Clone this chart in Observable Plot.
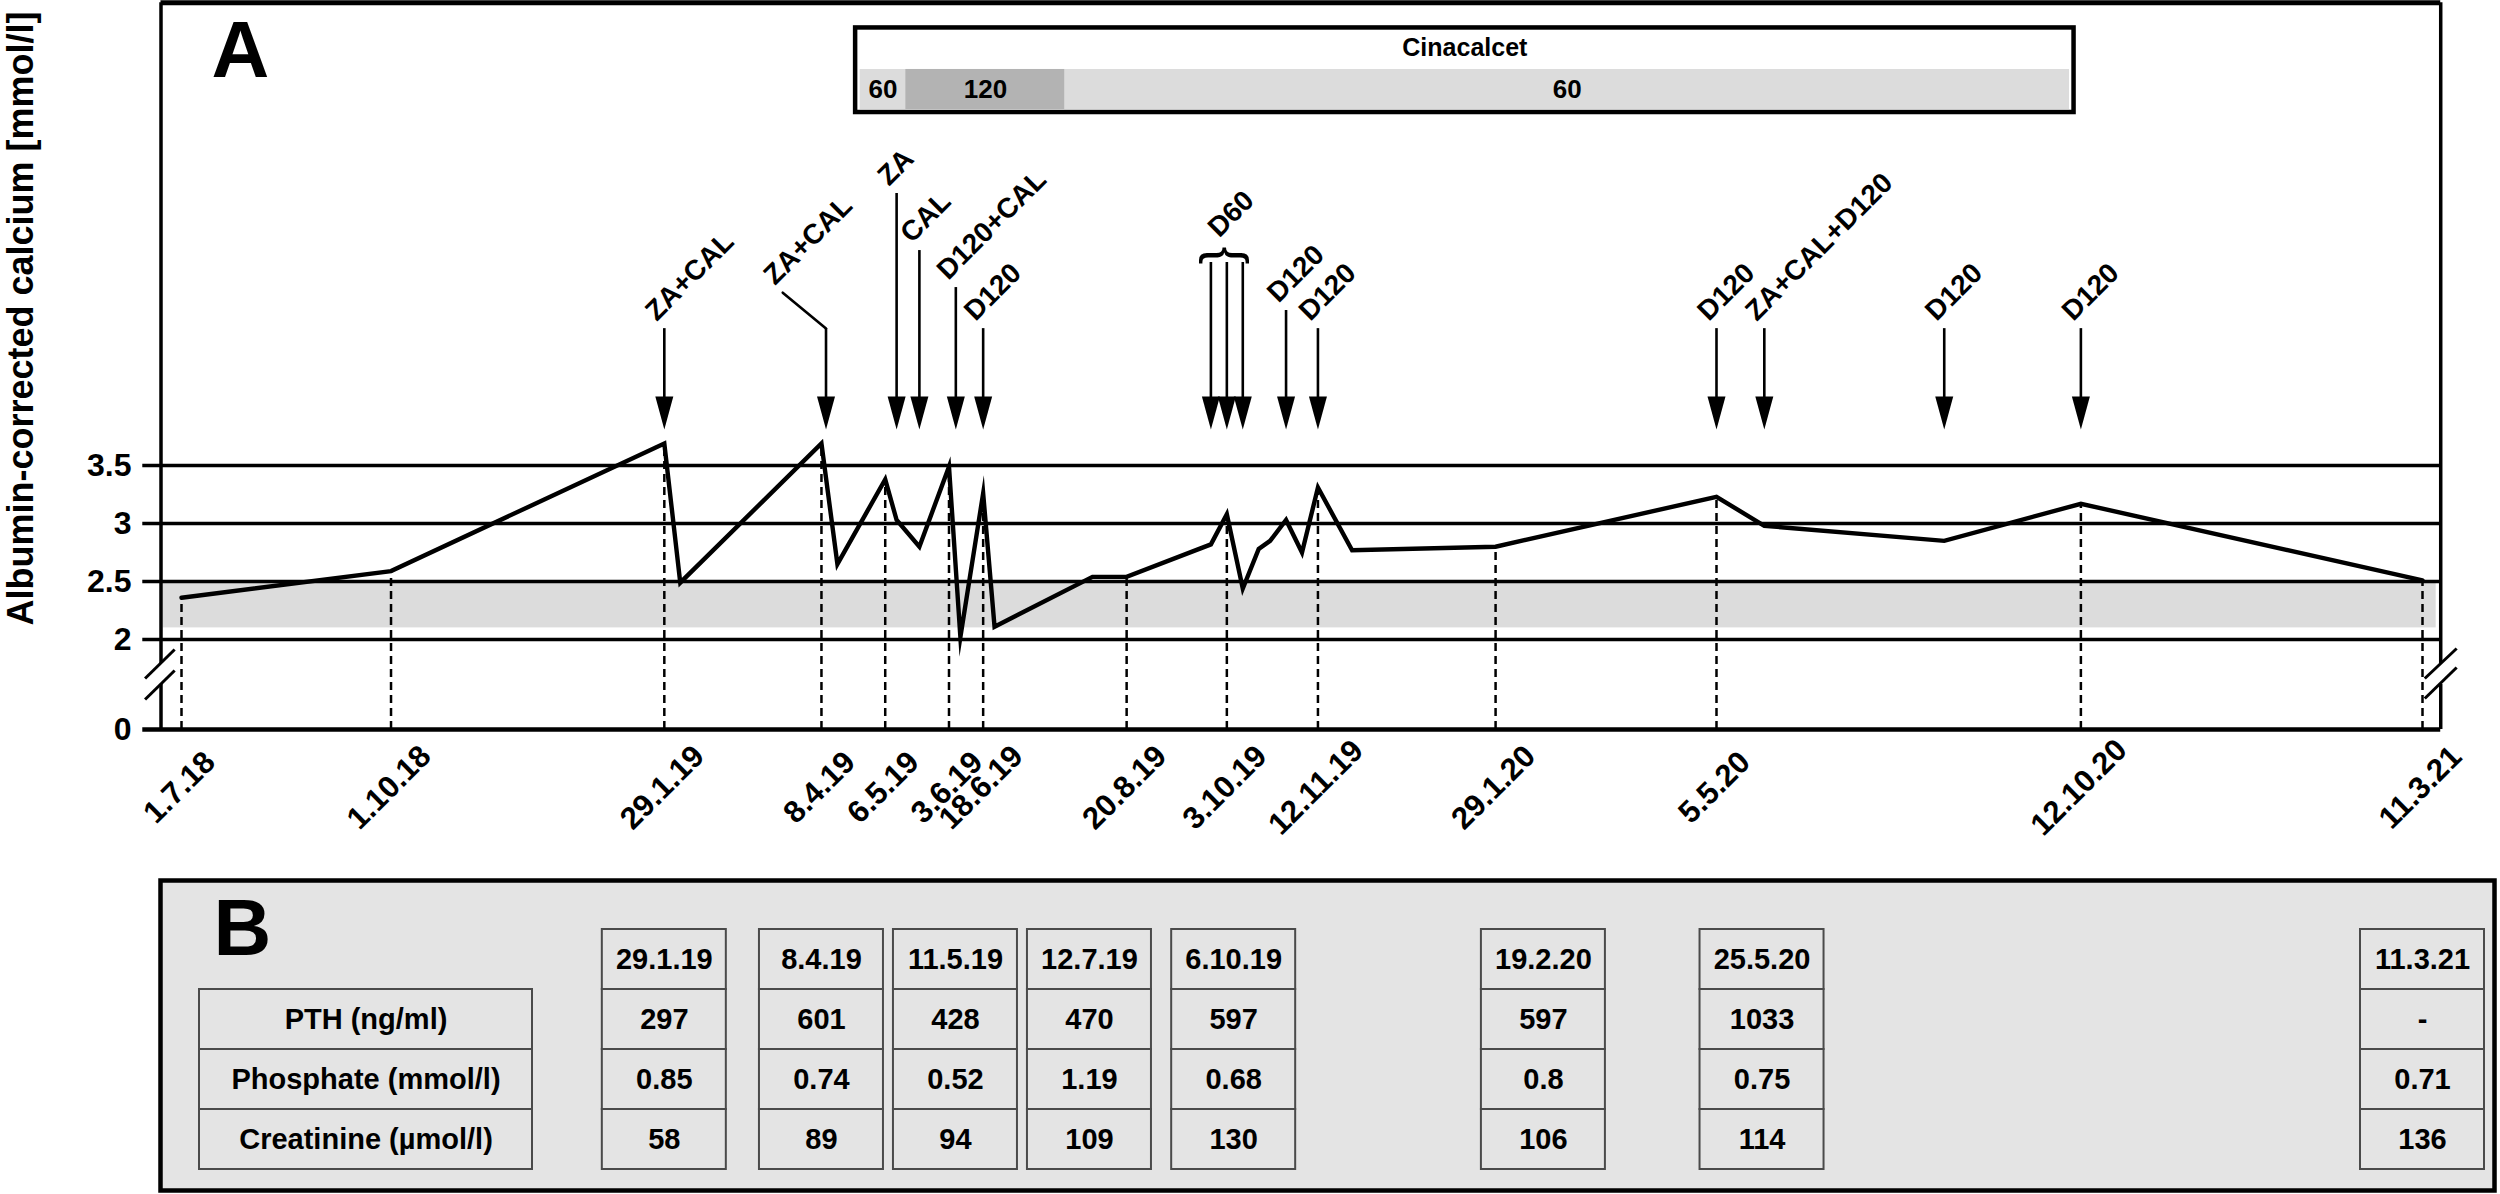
<!DOCTYPE html>
<html><head><meta charset="utf-8">
<script src="https://cdn.jsdelivr.net/npm/d3@7"></script>
<script src="https://cdn.jsdelivr.net/npm/@observablehq/plot@0.6"></script>
<style>
html,body{margin:0;padding:0;background:#fff;}
#chart svg{display:block;}
</style></head><body><div id="chart"></div>
<script>
// ---------- DATA ----------
const tickDates = ["1.7.18","1.10.18","29.1.19","8.4.19","6.5.19","3.6.19","18.6.19","20.8.19","3.10.19","12.11.19","29.1.20","5.5.20","12.10.20","11.3.21"];
const calciumDates = ["1.7.18","1.10.18","29.1.19","5.2.19","8.4.19","15.4.19","6.5.19","11.5.19","21.5.19","3.6.19","8.6.19","18.6.19","23.6.19","5.8.19","20.8.19","26.9.19","3.10.19","10.10.19","17.10.19","22.10.19","29.10.19","5.11.19","12.11.19","27.11.19","29.1.20","5.5.20","26.5.20","13.8.20","12.10.20","11.3.21"];
const calciumValues = [2.36,2.59,3.69,2.49,3.69,2.65,3.38,3.03,2.80,3.49,2.02,3.26,2.11,2.54,2.54,2.82,3.08,2.44,2.78,2.85,3.03,2.75,3.31,2.77,2.80,3.23,2.98,2.85,3.17,2.51];
const yTicks = [0, 2, 2.5, 3, 3.5];
const normalRange = [2.1, 2.5];
const arrowDates = ["29.1.19","10.4.19","11.5.19","21.5.19","6.6.19","18.6.19","26.9.19","3.10.19","10.10.19","29.10.19","12.11.19","5.5.20","26.5.20","13.8.20","12.10.20"];
const arrowLabels = ["ZA+CAL","ZA+CAL","ZA","CAL","D120+CAL","D120","D60","D60","D60","D120","D120","D120","ZA+CAL+D120","D120","D120"];
const cinacalcetStarts = ["25.4.19","15.5.19","24.7.19"];
const cinacalcetEnds = ["15.5.19","24.7.19","7.10.20"];
const cinacalcetDoses = [60, 120, 60];
const labDates = ["29.1.19","8.4.19","11.5.19","12.7.19","6.10.19","19.2.20","25.5.20","11.3.21"];
const labRows = ["PTH (ng/ml)","Phosphate (mmol/l)","Creatinine (µmol/l)"];
const pth = [297, 601, 428, 470, 597, 597, 1033, null];
const phosphate = [0.85, 0.74, 0.52, 1.19, 0.68, 0.8, 0.75, 0.71];
const creatinine = [58, 89, 94, 109, 130, 106, 114, 136];

// ---------- HELPERS / LAYOUT ----------
const parse = d3.utcParse("%d.%m.%y");
const off = (d, n) => d3.utcDay.offset(d, n);
const mid = (a, b) => new Date((+a + +b) / 2);
const FONT = "'Liberation Sans', Arial, Helvetica, sans-serif";

const xDomain = [parse(tickDates[0]), parse(tickDates[tickDates.length - 1])];
const boxL = off(xDomain[0], -9), boxR = off(xDomain[1], 8);
const stubL = off(xDomain[0], -17);
const bandL = off(xDomain[0], -8), bandR = off(xDomain[1], 6);
const TOP = 7.49, BREAK_LO = 1.0, BREAK_HI = 1.467;
const TIP = 3.81, SHAFT_LO = 4.0;

const calcium = calciumDates.map((d, i) => ({date: parse(d), value: calciumValues[i]}));
const valueAt = new Map(calcium.map(d => [+d.date, d.value]));
const ticks = tickDates.map(t => ({date: parse(t), label: t, value: valueAt.get(+parse(t))}));

const arrowTops = [4.68, 4.68, 5.845, 5.353, 5.034, 4.68, 5.25, 5.25, 5.25, 4.836, 4.68, 4.68, 4.68, 4.68, 4.68];
const arrows = arrowDates.map((d, i) => ({date: parse(d), label: arrowLabels[i], top: arrowTops[i]}));
const leader = [{date: off(arrows[1].date, -19), y: 4.99}, {date: arrows[1].date, y: arrows[1].top}];
const labels = arrows.filter(a => a.label !== "D60").map(a =>
  a === arrows[1] ? {date: leader[0].date, y: leader[0].y, label: a.label} : {date: a.date, y: a.top, label: a.label});
const d60 = arrows.filter(a => a.label === "D60");
labels.push({date: d60[1].date, y: 5.40, label: "D60"});

const arrowHead = {draw(ctx) { ctx.moveTo(-9, -33); ctx.lineTo(9, -33); ctx.lineTo(0, 0); ctx.closePath(); }};

const cina = cinacalcetStarts.map((s, i) => ({start: parse(s), end: parse(cinacalcetEnds[i]), dose: cinacalcetDoses[i]}));
const cinaBox = {start: off(cina[0].start, -2), end: off(cina[cina.length - 1].end, 2)};

const breaks = [
  {x1: off(xDomain[0], -16), y1: 0.667, x2: off(xDomain[0], -3), y2: 1.311},
  {x1: off(xDomain[0], -16), y1: 1.133, x2: off(xDomain[0], -3), y2: 1.778},
  {x1: off(xDomain[1], 1), y1: 0.689, x2: off(xDomain[1], 15), y2: 1.378},
  {x1: off(xDomain[1], 1), y1: 1.133, x2: off(xDomain[1], 15), y2: 1.8}
];

// ---------- PANEL A ----------
const chartA = Plot.plot({
  width: 2500, height: 875,
  marginLeft: 143, marginRight: 59, marginTop: 0, marginBottom: 0,
  style: {fontFamily: FONT, background: "white", color: "black"},
  x: {type: "utc", domain: xDomain, range: [181, 2422], axis: null},
  y: {type: "linear", domain: [0, 2, 3.5], range: [729, 639, 465], axis: null},
  color: {type: "identity"},
  marks: [
    Plot.rect([{lo: normalRange[0], hi: normalRange[1]}], {x1: () => bandL, x2: () => bandR, y1: "lo", y2: "hi", fill: "#dcdcdc"}),
    Plot.ruleY(yTicks.filter(d => d > 0), {y: d => d, x1: () => stubL, x2: () => boxR, strokeWidth: 3.5}),
    Plot.ruleY([0], {y: d => d, x1: () => stubL, x2: () => boxR, strokeWidth: 4.5}),
    Plot.ruleX(ticks, {x: "date", y1: () => 0, y2: "value", strokeWidth: 2.5, strokeDasharray: "8,5"}),
    Plot.ruleX([boxL, boxR], {x: d => d, y1: () => TOP, y2: () => BREAK_HI, strokeWidth: 3.5}),
    Plot.ruleX([boxL, boxR], {x: d => d, y1: () => BREAK_LO, y2: () => 0, strokeWidth: 3.5}),
    Plot.ruleY([TOP], {y: d => d, x1: () => boxL, x2: () => boxR, strokeWidth: 5}),
    Plot.link(breaks, {x1: "x1", y1: "y1", x2: "x2", y2: "y2", strokeWidth: 3}),
    Plot.line(calcium, {x: "date", y: "value", strokeWidth: 4.4, strokeLinejoin: "miter", strokeMiterlimit: 12}),
    // arrows
    Plot.ruleX(arrows, {x: "date", y1: () => SHAFT_LO, y2: "top", strokeWidth: 2.6}),
    Plot.line(leader, {x: "date", y: "y", strokeWidth: 2.6}),
    Plot.dot(arrows, {x: "date", y: () => TIP, symbol: arrowHead, fill: "black", stroke: "none"}),
    Plot.text(["{"], {x: () => d60[1].date, y: () => 5.31, rotate: 90, fontSize: 54, fontWeight: "normal"}),
    Plot.text(labels, {x: "date", y: "y", text: "label", rotate: -45, textAnchor: "start", dx: -14, dy: -13, fontSize: 28, fontWeight: "bold"}),
    // cinacalcet bar
    Plot.rect([cinaBox], {x1: "start", x2: "end", y1: () => 6.543, y2: () => 7.272, fill: "white"}),
    Plot.rect(cina, {x1: "start", x2: "end", y1: () => 6.569, y2: () => 6.914, fill: d => d.dose === 120 ? "#b3b3b3" : "#dcdcdc"}),
    Plot.rect([cinaBox], {x1: "start", x2: "end", y1: () => 6.543, y2: () => 7.272, fill: "none", stroke: "black", strokeWidth: 4.5}),
    Plot.text([cinaBox], {x: d => mid(d.start, d.end), y: () => 7.095, text: () => "Cinacalcet", fontSize: 25, fontWeight: "bold"}),
    Plot.text(cina, {x: d => mid(d.start, d.end), y: () => 6.74, text: d => String(d.dose), fontSize: 26, fontWeight: "bold"}),
    // axes text
    Plot.text(yTicks, {y: d => d, text: d => String(d), frameAnchor: "left", dx: -12, textAnchor: "end", lineAnchor: "middle", fontSize: 32, fontWeight: "bold"}),
    Plot.text(ticks, {x: "date", y: () => 0, text: "label", rotate: -45, dx: -2, dy: 58, fontSize: 31, fontWeight: "bold"}),
    Plot.text(["Albumin-corrected calcium [mmol/l]"], {y: () => 4.767, frameAnchor: "left", dx: -122, rotate: -90, textAnchor: "middle", lineAnchor: "middle", fontSize: 36, fontWeight: "bold"}),
    Plot.text(["A"], {frameAnchor: "top-left", dx: 97, dy: 51, textAnchor: "middle", lineAnchor: "middle", fontSize: 80, fontWeight: "bold"})
  ]
});

// ---------- PANEL B ----------
const xA = chartA.scale("x");
const colW = 124, colGap = 10;
let prev = -Infinity;
const cols = labDates.map(d => { const c = Math.max(xA.apply(parse(d)), prev + colW + colGap); prev = c; return {label: d, cx: c}; });
const series = [pth, phosphate, creatinine];
const cells = [];
cols.forEach((c, i) => {
  cells.push({cx: c.cx, row: "date", text: c.label});
  labRows.forEach((r, j) => cells.push({cx: c.cx, row: r, text: series[j][i] == null ? "-" : String(series[j][i])}));
});

const chartB = Plot.plot({
  width: 2500, height: 319,
  marginLeft: 160, marginRight: 6, marginTop: 5, marginBottom: 4,
  style: {fontFamily: FONT, background: "white", color: "black"},
  x: {domain: [0, 2500], range: [0, 2500], axis: null},
  y: {type: "band", domain: ["date", ...labRows], range: [52, 295], padding: 0, axis: null},
  marks: [
    Plot.frame({fill: "#e4e4e4", stroke: "black", strokeWidth: 4.5}),
    Plot.barX(labRows, {x1: () => 199, x2: () => 532, y: d => d, fill: "#e4e4e4", stroke: "#4a4a4a", strokeWidth: 2}),
    Plot.text(labRows, {x: () => 365.5, y: d => d, fontSize: 29, fontWeight: "bold"}),
    Plot.barX(cells, {x1: d => d.cx - colW / 2, x2: d => d.cx + colW / 2, y: "row", fill: "#e4e4e4", stroke: "#4a4a4a", strokeWidth: 2}),
    Plot.text(cells, {x: "cx", y: "row", text: "text", fontSize: 29, fontWeight: "bold"}),
    Plot.text(["B"], {frameAnchor: "top-left", dx: 82, dy: 49, textAnchor: "middle", lineAnchor: "middle", fontSize: 80, fontWeight: "bold"})
  ]
});

document.getElementById("chart").append(chartA, chartB);
</script>
</body></html>
